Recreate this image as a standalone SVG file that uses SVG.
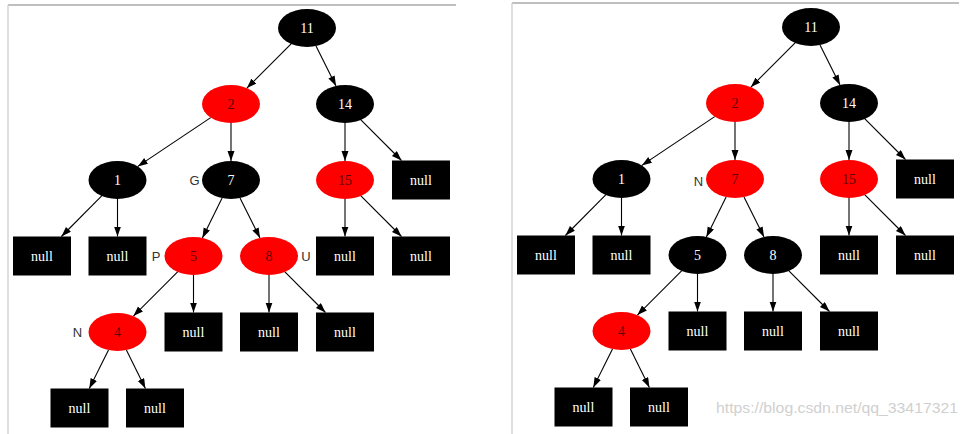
<svg xmlns="http://www.w3.org/2000/svg" width="966" height="434" viewBox="0 0 966 434">
<style>
.bk{fill:#000}
.rd{fill:#f00}
.nt{font-family:"Liberation Serif","Times New Roman",serif;font-size:14px;text-anchor:middle;dominant-baseline:central}
.wt{fill:#fff}
.rt{fill:#5c0000}
.lb{font-family:"Liberation Sans",Arial,sans-serif;font-size:13px;fill:#333;text-anchor:middle;dominant-baseline:central}
.e line{stroke:#000;stroke-width:1.1;marker-end:url(#ah)}
.frame{stroke:#aaa;stroke-width:1.5;fill:none}
</style>
<defs>
<marker id="ah" markerUnits="userSpaceOnUse" markerWidth="11" markerHeight="8" refX="10" refY="3.5" orient="auto">
<path d="M0,0 L10,3.5 L0,7 z" fill="#000"/>
</marker>
</defs>
<rect width="966" height="434" fill="#fff"/>
<g id="frames">
<line class="frame" x1="8" y1="5" x2="456" y2="5"/>
<line x1="8" y1="5" x2="8" y2="434" stroke="#d4d4d4" stroke-width="1.5"/>
<line class="frame" x1="512" y1="3" x2="959" y2="3"/>
<line x1="512" y1="3" x2="512" y2="434" stroke="#d4d4d4" stroke-width="1.5"/>
</g>

<g id="left-tree">
<g id="left-edges" class="e">
<line x1="291.1" y1="43.9" x2="246.9" y2="88.1"/>
<line x1="316" y1="46.1" x2="336" y2="85.9"/>
<line x1="210.7" y1="117.6" x2="137.8" y2="166.4"/>
<line x1="231" y1="123" x2="231" y2="161"/>
<line x1="345" y1="123" x2="345" y2="161"/>
<line x1="360.9" y1="119.9" x2="401.5" y2="160.5"/>
<line x1="101.7" y1="195.9" x2="61.4" y2="236.5"/>
<line x1="117.5" y1="199" x2="117.5" y2="236.5"/>
<line x1="222.1" y1="198.1" x2="202.4" y2="237.9"/>
<line x1="240" y1="198.1" x2="260" y2="237.9"/>
<line x1="345" y1="199" x2="345" y2="236.5"/>
<line x1="360.9" y1="195.9" x2="401.5" y2="236.5"/>
<line x1="177.6" y1="271.9" x2="133.4" y2="316.1"/>
<line x1="193.5" y1="275" x2="193.5" y2="312.5"/>
<line x1="269" y1="275" x2="269" y2="312.5"/>
<line x1="284.9" y1="271.9" x2="325.5" y2="312.5"/>
<line x1="108.5" y1="350.1" x2="89.3" y2="388.5"/>
<line x1="126.4" y1="350.1" x2="145.4" y2="388.5"/>
</g>
<g id="L11"><ellipse class="bk" cx="307" cy="28" rx="29" ry="19"/><text class="nt wt" x="307" y="28">11</text></g>
<g id="L2"><ellipse class="rd" cx="231" cy="104" rx="29" ry="19"/><text class="nt rt" x="231" y="104">2</text></g>
<g id="L14"><ellipse class="bk" cx="345" cy="104" rx="29" ry="19"/><text class="nt wt" x="345" y="104">14</text></g>
<g id="L1"><ellipse class="bk" cx="117.5" cy="180" rx="29" ry="19"/><text class="nt wt" x="117.5" y="180">1</text></g>
<g id="L7"><ellipse class="bk" cx="231" cy="180" rx="29" ry="19"/><text class="nt wt" x="231" y="180">7</text><text class="lb" x="194.5" y="180">G</text></g>
<g id="L15"><ellipse class="rd" cx="345" cy="180" rx="29" ry="19"/><text class="nt rt" x="345" y="180">15</text></g>
<g id="L14n"><rect class="bk" x="392" y="160.5" width="58" height="39"/><text class="nt wt" x="421" y="180">null</text></g>
<g id="L1n1"><rect class="bk" x="13" y="236.5" width="58" height="39"/><text class="nt wt" x="42" y="256">null</text></g>
<g id="L1n2"><rect class="bk" x="88.5" y="236.5" width="58" height="39"/><text class="nt wt" x="117.5" y="256">null</text></g>
<g id="L5"><ellipse class="rd" cx="193.5" cy="256" rx="29" ry="19"/><text class="nt rt" x="193.5" y="256">5</text><text class="lb" x="156" y="256">P</text></g>
<g id="L8"><ellipse class="rd" cx="269" cy="256" rx="29" ry="19"/><text class="nt rt" x="269" y="256">8</text><text class="lb" x="306" y="256">U</text></g>
<g id="L15n1"><rect class="bk" x="316" y="236.5" width="58" height="39"/><text class="nt wt" x="345" y="256">null</text></g>
<g id="L15n2"><rect class="bk" x="392" y="236.5" width="58" height="39"/><text class="nt wt" x="421" y="256">null</text></g>
<g id="L4"><ellipse class="rd" cx="117.5" cy="332" rx="29" ry="19"/><text class="nt rt" x="117.5" y="332">4</text><text class="lb" x="77.5" y="332">N</text></g>
<g id="L5n"><rect class="bk" x="164.5" y="312.5" width="58" height="39"/><text class="nt wt" x="193.5" y="332">null</text></g>
<g id="L8n1"><rect class="bk" x="240" y="312.5" width="58" height="39"/><text class="nt wt" x="269" y="332">null</text></g>
<g id="L8n2"><rect class="bk" x="316" y="312.5" width="58" height="39"/><text class="nt wt" x="345" y="332">null</text></g>
<g id="L4n1"><rect class="bk" x="50.5" y="388.5" width="58" height="39"/><text class="nt wt" x="79.5" y="408">null</text></g>
<g id="L4n2"><rect class="bk" x="126" y="388.5" width="58" height="39"/><text class="nt wt" x="155" y="408">null</text></g>
</g>

<g id="right-tree" transform="translate(504,-1)">
<g id="right-edges" class="e">
<line x1="291.1" y1="43.9" x2="246.9" y2="88.1"/>
<line x1="316" y1="46.1" x2="336" y2="85.9"/>
<line x1="210.7" y1="117.6" x2="137.8" y2="166.4"/>
<line x1="231" y1="123" x2="231" y2="161"/>
<line x1="345" y1="123" x2="345" y2="161"/>
<line x1="360.9" y1="119.9" x2="401.5" y2="160.5"/>
<line x1="101.7" y1="195.9" x2="61.4" y2="236.5"/>
<line x1="117.5" y1="199" x2="117.5" y2="236.5"/>
<line x1="222.1" y1="198.1" x2="202.4" y2="237.9"/>
<line x1="240" y1="198.1" x2="260" y2="237.9"/>
<line x1="345" y1="199" x2="345" y2="236.5"/>
<line x1="360.9" y1="195.9" x2="401.5" y2="236.5"/>
<line x1="177.6" y1="271.9" x2="133.4" y2="316.1"/>
<line x1="193.5" y1="275" x2="193.5" y2="312.5"/>
<line x1="269" y1="275" x2="269" y2="312.5"/>
<line x1="284.9" y1="271.9" x2="325.5" y2="312.5"/>
<line x1="108.5" y1="350.1" x2="89.3" y2="388.5"/>
<line x1="126.4" y1="350.1" x2="145.4" y2="388.5"/>
</g>
<g id="R11"><ellipse class="bk" cx="307" cy="28" rx="29" ry="19"/><text class="nt wt" x="307" y="28">11</text></g>
<g id="R2"><ellipse class="rd" cx="231" cy="104" rx="29" ry="19"/><text class="nt rt" x="231" y="104">2</text></g>
<g id="R14"><ellipse class="bk" cx="345" cy="104" rx="29" ry="19"/><text class="nt wt" x="345" y="104">14</text></g>
<g id="R1"><ellipse class="bk" cx="117.5" cy="180" rx="29" ry="19"/><text class="nt wt" x="117.5" y="180">1</text></g>
<g id="R7"><ellipse class="rd" cx="231" cy="180" rx="29" ry="19"/><text class="nt rt" x="231" y="180">7</text><text class="lb" x="194.5" y="182">N</text></g>
<g id="R15"><ellipse class="rd" cx="345" cy="180" rx="29" ry="19"/><text class="nt rt" x="345" y="180">15</text></g>
<g id="R14n"><rect class="bk" x="392" y="160.5" width="58" height="39"/><text class="nt wt" x="421" y="180">null</text></g>
<g id="R1n1"><rect class="bk" x="13" y="236.5" width="58" height="39"/><text class="nt wt" x="42" y="256">null</text></g>
<g id="R1n2"><rect class="bk" x="88.5" y="236.5" width="58" height="39"/><text class="nt wt" x="117.5" y="256">null</text></g>
<g id="R5"><ellipse class="bk" cx="193.5" cy="256" rx="29" ry="19"/><text class="nt wt" x="193.5" y="256">5</text></g>
<g id="R8"><ellipse class="bk" cx="269" cy="256" rx="29" ry="19"/><text class="nt wt" x="269" y="256">8</text></g>
<g id="R15n1"><rect class="bk" x="316" y="236.5" width="58" height="39"/><text class="nt wt" x="345" y="256">null</text></g>
<g id="R15n2"><rect class="bk" x="392" y="236.5" width="58" height="39"/><text class="nt wt" x="421" y="256">null</text></g>
<g id="R4"><ellipse class="rd" cx="117.5" cy="332" rx="29" ry="19"/><text class="nt rt" x="117.5" y="332">4</text></g>
<g id="R5n"><rect class="bk" x="164.5" y="312.5" width="58" height="39"/><text class="nt wt" x="193.5" y="332">null</text></g>
<g id="R8n1"><rect class="bk" x="240" y="312.5" width="58" height="39"/><text class="nt wt" x="269" y="332">null</text></g>
<g id="R8n2"><rect class="bk" x="316" y="312.5" width="58" height="39"/><text class="nt wt" x="345" y="332">null</text></g>
<g id="R4n1"><rect class="bk" x="50.5" y="388.5" width="58" height="39"/><text class="nt wt" x="79.5" y="408">null</text></g>
<g id="R4n2"><rect class="bk" x="126" y="388.5" width="58" height="39"/><text class="nt wt" x="155" y="408">null</text></g>
</g>

<text x="716" y="413" font-family="Liberation Sans, Arial, sans-serif" font-size="14.5" fill="#d0d0d0" textLength="242" lengthAdjust="spacingAndGlyphs">https://blog.csdn.net/qq_33417321</text>
</svg>
